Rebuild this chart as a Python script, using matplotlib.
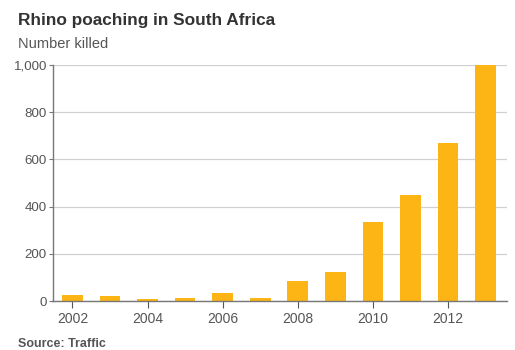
import matplotlib
matplotlib.use("Agg")
import matplotlib.pyplot as plt
from matplotlib.ticker import FuncFormatter

years = [2002, 2003, 2004, 2005, 2006, 2007, 2008, 2009, 2010, 2011, 2012, 2013]
killed = [25, 22, 10, 13, 36, 13, 83, 122, 333, 448, 668, 1004]
xticks = [2002, 2004, 2006, 2008, 2010, 2012]
yticks = [0, 200, 400, 600, 800, 1000]

plt.rcParams['font.family'] = ['Liberation Sans', 'DejaVu Sans']

fig = plt.figure(figsize=(5.15, 3.5), dpi=100)
ax = fig.add_axes([52.5/515, 49/350, (507-52.5)/515, (301-65)/350])

ax.bar(years, killed, width=0.55, color='#FDB515', zorder=2)
ax.set_xlim(2001.47, 2013.57)
ax.set_ylim(0, 1000)
ax.set_xticks(xticks)
ax.set_yticks(yticks)
ax.yaxis.set_major_formatter(FuncFormatter(lambda v, p: f"{int(v):,}"))
ax.grid(axis='y', color='#d0d0d0', linewidth=0.9, zorder=0)
for s in ['top', 'right']:
    ax.spines[s].set_visible(False)
for s in ['left', 'bottom']:
    ax.spines[s].set_color('#777777')
    ax.spines[s].set_linewidth(1.0)
ax.spines['bottom'].set_zorder(3)
ax.tick_params(axis='x', length=5, color='#555555', labelsize=10, labelcolor='#555555', pad=3)
ax.tick_params(axis='y', length=3, color='#777777', labelsize=9.6, labelcolor='#555555', pad=1)

fig.text(18/515, 1 - 20/350, "Rhino poaching in South Africa", fontsize=12.4, fontweight='bold',
         color='#333333', va='center', ha='left')
fig.text(18/515, 1 - 44/350, "Number killed", fontsize=10.5, color='#555555', va='center', ha='left')
fig.text(18/515, 1 - 344/350, "Source: Traffic", fontsize=9, fontweight='bold', color='#555555',
         va='center', ha='left')

fig.savefig("out.png", dpi=100)
